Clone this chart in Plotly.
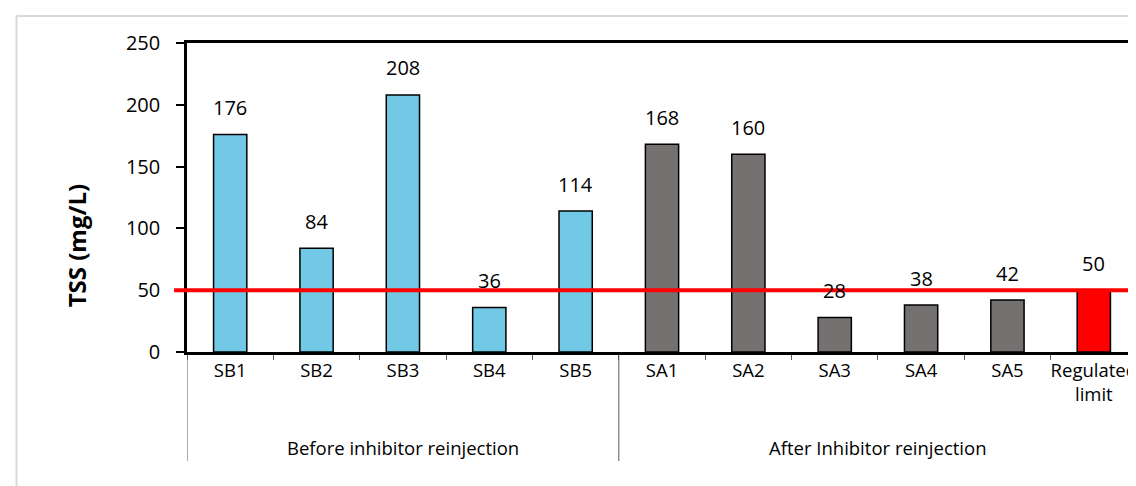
import plotly.graph_objects as go

# ---- data ----
before_cats = ["SB1", "SB2", "SB3", "SB4", "SB5"]
before_vals = [176, 84, 208, 36, 114]
after_cats = ["SA1", "SA2", "SA3", "SA4", "SA5"]
after_vals = [168, 160, 28, 38, 42]
limit_cat = ["Regulated limit"]
limit_val = [50]
limit_tick_text = ["Regulated<br>limit"]
group_names = ["Before inhibitor reinjection", "After Inhibitor reinjection"]
y_title = "TSS (mg/L)"
regulated_limit = 50

all_cats = before_cats + after_cats + limit_cat
all_vals = before_vals + after_vals + limit_val
tick_text = before_cats + after_cats + limit_tick_text

FONT = "Open Sans"
BLUE = "#72C9E6"
GREY = "#757171"
RED = "#FF0000"

W, H = 1136, 486
L, R, T, B = 179, 4, 35, 142
pw, ph = W - L - R, H - T - B

def px(xpix):
    return (xpix - L) / pw

def py(ypix):
    return (H - B - ypix) / ph

fig = go.Figure()
outline = dict(color="black", width=1.5)
fig.add_trace(go.Bar(x=before_cats, y=before_vals, marker=dict(color=BLUE, line=outline),
                     hoverinfo="x+y", showlegend=False))
fig.add_trace(go.Bar(x=after_cats, y=after_vals, marker=dict(color=GREY, line=outline),
                     hoverinfo="x+y", showlegend=False))
fig.add_trace(go.Bar(x=limit_cat, y=limit_val, marker=dict(color=RED, line=outline),
                     hoverinfo="x+y", showlegend=False))

# data labels
for c, v in zip(all_cats, all_vals):
    fig.add_annotation(x=c, y=v, xref="x", yref="y", text=str(v), showarrow=False,
                       yanchor="middle", yshift=27,
                       font=dict(family=FONT, size=20, color="black"))

# regulated limit line
fig.add_shape(type="line", xref="paper", yref="y", x0=px(166), x1=px(1136),
              y0=regulated_limit, y1=regulated_limit,
              line=dict(color=RED, width=4), layer="above")

# group dividers
n_before = len(before_cats)
n_all = len(all_cats)
for xb in [-0.5, n_before - 0.5, n_all - 0.5]:
    fig.add_shape(type="line", xref="x", yref="paper", x0=xb, x1=xb,
                  y0=0, y1=py(453), line=dict(color="#595959", width=1), layer="below")

# group labels
fig.add_annotation(x=(n_before - 1) / 2, y=py(439), xref="x", yref="paper",
                   text=group_names[0], showarrow=False, yanchor="middle",
                   font=dict(family=FONT, size=18.5, color="black"))
fig.add_annotation(x=(n_before + n_all - 1) / 2, y=py(439), xref="x", yref="paper",
                   text=group_names[1], showarrow=False, yanchor="middle",
                   font=dict(family=FONT, size=18.5, color="black"))

# y title
fig.add_annotation(x=px(68), y=py(238), xref="paper", yref="paper", text="<b>" + y_title + "</b>",
                   textangle=-90, showarrow=False, xanchor="center", yanchor="middle",
                   font=dict(family=FONT, size=24, color="black"))

# outer chart border (only top and left edges are inside the picture)
border = dict(color="#D9D9D9", width=2)
fig.add_shape(type="line", xref="paper", yref="paper", x0=px(8), x1=px(1140),
              y0=py(8), y1=py(8), line=border, layer="below")
fig.add_shape(type="line", xref="paper", yref="paper", x0=px(8), x1=px(8),
              y0=py(8), y1=py(490), line=border, layer="below")

fig.update_layout(
    width=W, height=H,
    margin=dict(l=L, r=R, t=T, b=B, pad=0),
    paper_bgcolor="white", plot_bgcolor="white",
    barmode="overlay", bargap=0.615,
    font=dict(family=FONT, color="black"),
    showlegend=False,
)
fig.update_xaxes(
    type="category", categoryorder="array", categoryarray=all_cats,
    tickmode="array", tickvals=all_cats, ticktext=tick_text,
    tickson="boundaries", ticks="outside", ticklen=5, tickwidth=1, tickcolor="#595959",
    tickangle=0,
    showline=True, linecolor="black", linewidth=2.5, mirror=True,
    showgrid=False, zeroline=False,
    tickfont=dict(family=FONT, size=18.5, color="black"),
    range=[-0.5, n_all - 0.5],
)
fig.update_yaxes(
    range=[0, 250], tickmode="linear", tick0=0, dtick=50,
    ticks="outside", ticklen=8, tickwidth=1.5, tickcolor="black",
    showline=True, linecolor="black", linewidth=2.5, mirror=True,
    showgrid=False, zeroline=False,
    tickfont=dict(family=FONT, size=20, color="black"),
    ticklabelstandoff=12,
)

fig.write_html("out.html")
